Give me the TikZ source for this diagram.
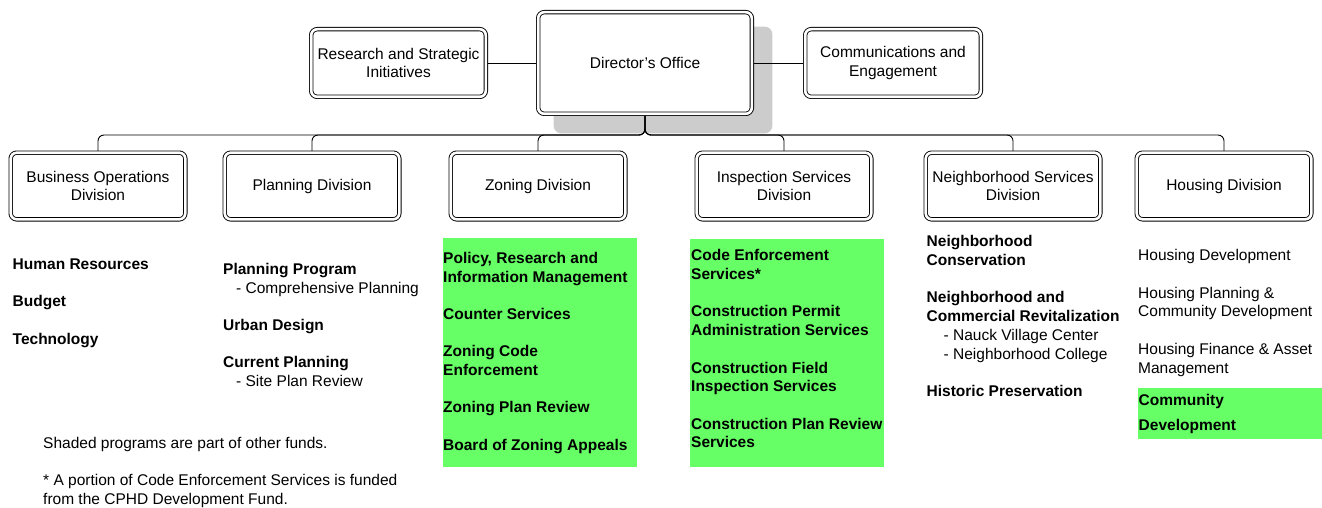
\documentclass[tikz,border=0pt]{standalone}
\usepackage{fontspec}
\setmainfont{Liberation Sans}
\usepackage{tikz}
\usetikzlibrary{positioning,backgrounds}
\definecolor{progfill}{HTML}{66ff66}
\definecolor{shadowfill}{HTML}{cccccc}
\newcommand{\orgfont}{\fontsize{15.5}{18.8}\selectfont}
\tikzset{
  orgbox/.style={draw, double, double distance=2.6pt, line width=0.9pt,
                 rounded corners=6pt, fill=white, align=center,
                 font=\orgfont, inner sep=2pt},
  divbox/.style={orgbox, minimum width=174.6pt, minimum height=66.6pt},
  topbox/.style={orgbox, minimum width=174.6pt, minimum height=67.6pt},
  progbox/.style={fill=progfill, inner sep=0pt, anchor=north west},
  proglist/.style={anchor=north west, align=left, inner sep=0pt,
                   font=\orgfont\bfseries},
  plainlist/.style={anchor=north west, align=left, inner sep=0pt,
                    font=\orgfont},
  orgline/.style={line width=0.9pt, rounded corners=6pt}
}

\begin{document}
\begin{tikzpicture}[x=1pt, y=-1pt]
  \useasboundingbox (0,0) rectangle (1322,508);

  % --- top row: director and staff offices ---
  \node[orgbox, minimum width=213.6pt, minimum height=101.6pt] (dir) at (645,63) {Director’s Office};
  \node[topbox] (rsi) at (398.5,63) {Research and Strategic\\Initiatives};
  \node[topbox, minimum width=175.6pt] (com) at (893,63) {Communications and\\Engagement};

  % --- divisions ---
  \node[divbox] (bod) at (98,186)   {Business Operations\\Division};
  \node[divbox] (pld) at (312,186)  {Planning Division};
  \node[divbox] (zod) at (538,186)  {Zoning Division};
  \node[divbox] (isd) at (784,186)  {Inspection Services\\Division};
  \node[divbox] (nsd) at (1013,186) {Neighborhood Services\\Division};
  \node[divbox] (hod) at (1224,186) {Housing Division};

  % --- shadow and connectors behind the boxes ---
  \begin{pgfonlayer}{background}
    \fill[shadowfill, rounded corners=8pt]
      ([shift={(15.8,14.8)}]dir.north west) rectangle ([shift={(20.2,19.2)}]dir.south east);
    \draw[orgline] (rsi) -- (dir);
    \draw[orgline] (dir) -- (com);
    \coordinate (bus) at (645,135);
    \foreach \d in {bod,pld,zod,isd,nsd,hod}
      \draw[orgline] (dir.center) |- (bus -| \d) -- (\d.center);
  \end{pgfonlayer}

  % --- shaded programs ---
  \node[progbox, minimum width=194pt, minimum height=229pt] (zodbg) at (443,238) {};
  \node[progbox, minimum width=194pt, minimum height=228pt] (isdbg) at (690,239) {};
  \node[progbox, minimum width=184pt, minimum height=51pt]  (hodbg) at (1138,388) {};

  % --- program lists ---
  \node[proglist] (bodlist) at (12.5,258.7)
    {Human Resources\\[18.5pt]Budget\\[18.5pt]Technology};
  \node[proglist] (pldlist) at (223,263)
    {Planning Program\\\hspace*{13pt}\mdseries - Comprehensive Planning\\[18.5pt]Urban Design\\[18.5pt]%
     Current Planning\\\hspace*{13pt}\mdseries - Site Plan Review};
  \node[proglist] (zodlist) at (443,252)
    {Policy, Research and\\Information Management\\[18.5pt]Counter Services\\[18.5pt]%
     Zoning Code\\Enforcement\\[18.5pt]Zoning Plan Review\\[18.5pt]Board of Zoning Appeals};
  \node[proglist] (isdlist) at (691,249.4)
    {Code Enforcement\\Services{*}\\[18.5pt]Construction Permit\\Administration Services\\[18.5pt]%
     Construction Field\\Inspection Services\\[18.5pt]Construction Plan Review\\Services};
  \node[proglist] (nsdlist) at (926.5,235.4)
    {Neighborhood\\Conservation\\[18.5pt]Neighborhood and\\Commercial Revitalization\\%
     \hspace*{17pt}\mdseries - Nauck Village Center\\\hspace*{17pt}\mdseries - Neighborhood College\\[18.5pt]%
     Historic Preservation};
  \node[plainlist] (hodlist) at (1138,249.4)
    {Housing Development\\[18.5pt]Housing Planning \&\\Community Development\\[18.5pt]%
     Housing Finance \& Asset\\Management};
  \node[proglist] (hodprog) at (1138.5,393.7) {Community\\[7pt]Development};

  % --- notes ---
  \node[plainlist] (notes) at (43,437)
    {Shaded programs are part of other funds.\\[18.5pt]%
     {*} A portion of Code Enforcement Services is funded\\from the CPHD Development Fund.};
\end{tikzpicture}
\end{document}
